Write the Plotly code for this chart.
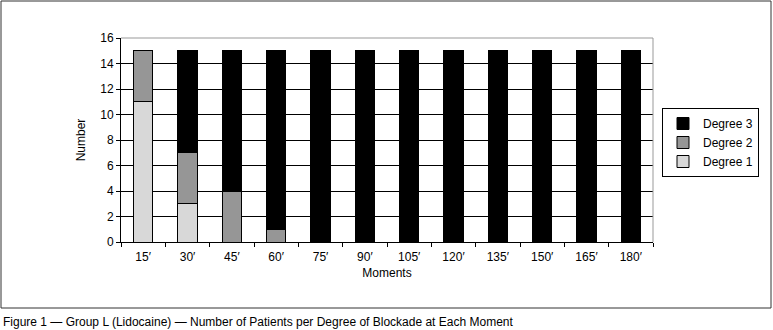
import plotly.graph_objects as go

moments = ["15′", "30′", "45′", "60′", "75′", "90′", "105′", "120′", "135′", "150′", "165′", "180′"]
degree1 = [11, 3, 0, 0, 0, 0, 0, 0, 0, 0, 0, 0]
degree2 = [4, 4, 4, 1, 0, 0, 0, 0, 0, 0, 0, 0]
degree3 = [0, 8, 11, 14, 15, 15, 15, 15, 15, 15, 15, 15]
y_ticks = [0, 2, 4, 6, 8, 10, 12, 14, 16]

FONT = "Liberation Sans, Arial, Helvetica, sans-serif"

fig = go.Figure()
for name, vals, col in [("Degree 1", degree1, "#d8d8d8"),
                        ("Degree 2", degree2, "#969696"),
                        ("Degree 3", degree3, "#000000")]:
    fig.add_trace(go.Bar(x=moments, y=vals, name=name,
                         marker=dict(color=col, line=dict(color="#000000", width=1))))

L, R, T, B = 121, 120, 38, 88
W, H = 773, 330
pw, ph = W - L - R, H - T - B

def px(x):
    return (x - L) / pw

def py(y):
    return (H - B - y) / ph

fig.update_layout(
    width=W, height=H,
    margin=dict(l=L, r=R, t=T, b=B),
    barmode="stack", bargap=0.57,
    paper_bgcolor="white", plot_bgcolor="white",
    font=dict(family=FONT, size=12, color="#000000"),
    showlegend=True,
    legend=dict(x=px(662), y=py(108), xanchor="left", yanchor="top",
                traceorder="reversed", bordercolor="#000000", borderwidth=1,
                font=dict(size=12), itemwidth=30, tracegroupgap=0),
    xaxis=dict(type="category", showline=True, linecolor="#000000", linewidth=1,
               ticks="outside", tickson="boundaries", ticklen=4, tickcolor="#000000",
               ticklabelstandoff=4, showgrid=False,
               title=dict(text="Moments", standoff=5, font=dict(size=12))),
    yaxis=dict(range=[0, 16], tickvals=y_ticks, showline=True, linecolor="#000000",
               linewidth=1, ticks="outside", ticklen=4, tickcolor="#000000",
               showgrid=True, gridcolor="#000000", gridwidth=1, zeroline=False,
               title=dict(text="Number", standoff=12, font=dict(size=12))),
    shapes=[
        dict(type="path", xref="paper", yref="paper", path="M 0,1 L 1,1 L 1,0",
             line=dict(color="#999999", width=1), layer="above"),
        dict(type="rect", xref="paper", yref="paper",
             x0=px(1), x1=px(771), y0=py(308), y1=py(1),
             line=dict(color="#333333", width=1)),
    ],
    annotations=[
        dict(text="Figure 1 — Group L (Lidocaine) — Number of Patients per Degree of Blockade at Each Moment",
             xref="paper", yref="paper", x=px(1), y=py(322), xanchor="left", yanchor="middle",
             showarrow=False, font=dict(size=12)),
    ],
)

fig.write_html("out.html")
